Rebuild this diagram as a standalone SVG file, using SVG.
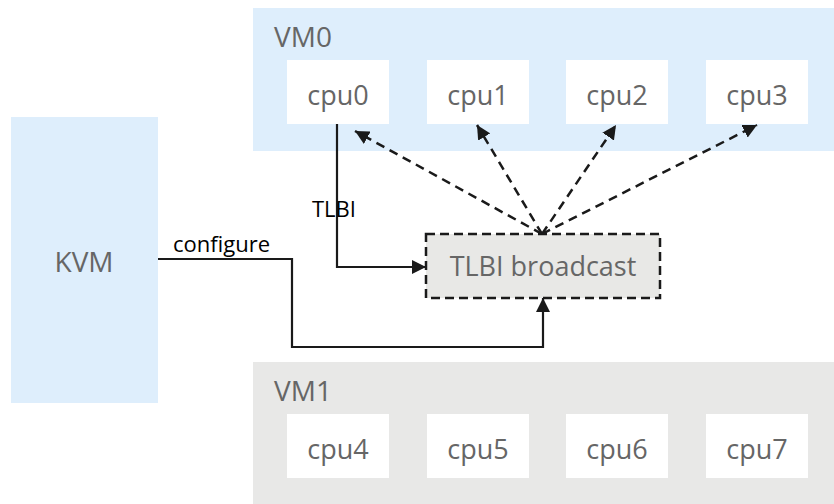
<svg xmlns="http://www.w3.org/2000/svg" width="834" height="504" viewBox="0 0 834 504">
  <style>
    .vm0 { fill: #deeefc; }
    .vm1 { fill: #e8e8e7; }
    .cpu { fill: #ffffff; }
    .lbl { font-family: "Open Sans", "Noto Sans", sans-serif; font-size: 28px; fill: #666666; }
    .cpul { font-family: "Open Sans", "Noto Sans", sans-serif; font-size: 27px; fill: #666666; text-anchor: middle; }
    .edge { font-family: "Open Sans", "Noto Sans", sans-serif; font-size: 22px; fill: #000000; }
    .solid { fill: none; stroke: #1a1a1a; stroke-width: 2.2; }
    .dash { fill: none; stroke: #1a1a1a; stroke-width: 2.5; stroke-dasharray: 9 6; }
  </style>
  <defs>
    <marker id="arrow" viewBox="0 0 14 14" refX="14" refY="7" markerWidth="14" markerHeight="14" markerUnits="userSpaceOnUse" orient="auto">
      <path d="M0,0 L14,7 L0,14 Z" fill="#1a1a1a"/>
    </marker>
  </defs>

  <!-- guest VM0 with four vCPUs -->
  <g id="vm0">
    <rect class="vm0" x="253" y="8" width="581" height="143"/>
    <text class="lbl" x="274" y="47">VM0</text>
  </g>
  <g id="cpu0"><rect class="cpu" x="287" y="60" width="102" height="64"/><text class="cpul" x="338" y="105">cpu0</text></g>
  <g id="cpu1"><rect class="cpu" x="427" y="60" width="102" height="64"/><text class="cpul" x="478" y="105">cpu1</text></g>
  <g id="cpu2"><rect class="cpu" x="566" y="60" width="102" height="64"/><text class="cpul" x="617" y="105">cpu2</text></g>
  <g id="cpu3"><rect class="cpu" x="706" y="60" width="102" height="64"/><text class="cpul" x="757" y="105">cpu3</text></g>

  <!-- host hypervisor -->
  <g id="kvm">
    <rect class="vm0" x="11" y="117" width="147" height="286"/>
    <text class="lbl" x="84" y="272" text-anchor="middle">KVM</text>
  </g>

  <!-- broadcast unit -->
  <g id="tlbi-broadcast">
    <rect x="426" y="234" width="234" height="64" fill="#e8e8e6" stroke="#1a1a1a" stroke-width="2.5" stroke-dasharray="9 5"/>
    <text class="cpul" x="543" y="276">TLBI broadcast</text>
  </g>

  <!-- guest VM1 with four vCPUs -->
  <g id="vm1">
    <rect class="vm1" x="253" y="362" width="581" height="142"/>
    <text class="lbl" x="274" y="401">VM1</text>
  </g>
  <g id="cpu4"><rect class="cpu" x="287" y="414" width="102" height="64"/><text class="cpul" x="338" y="459">cpu4</text></g>
  <g id="cpu5"><rect class="cpu" x="427" y="414" width="102" height="64"/><text class="cpul" x="478" y="459">cpu5</text></g>
  <g id="cpu6"><rect class="cpu" x="566" y="414" width="102" height="64"/><text class="cpul" x="617" y="459">cpu6</text></g>
  <g id="cpu7"><rect class="cpu" x="706" y="414" width="102" height="64"/><text class="cpul" x="757" y="459">cpu7</text></g>

  <!-- connectors -->
  <g id="connectors">
    <path class="solid" d="M337,124 V267 H426" marker-end="url(#arrow)"/>
    <text class="edge" x="312" y="217">TLBI</text>
    <path class="solid" d="M158,259 H292 V347 H543 V298" marker-end="url(#arrow)"/>
    <text class="edge" x="173" y="252">configure</text>
    <path class="dash" d="M542,234 L355,131" marker-end="url(#arrow)"/>
    <path class="dash" d="M542,234 L477,125" marker-end="url(#arrow)"/>
    <path class="dash" d="M542,234 L616,125" marker-end="url(#arrow)"/>
    <path class="dash" d="M542,234 L757,125" marker-end="url(#arrow)"/>
  </g>
</svg>
